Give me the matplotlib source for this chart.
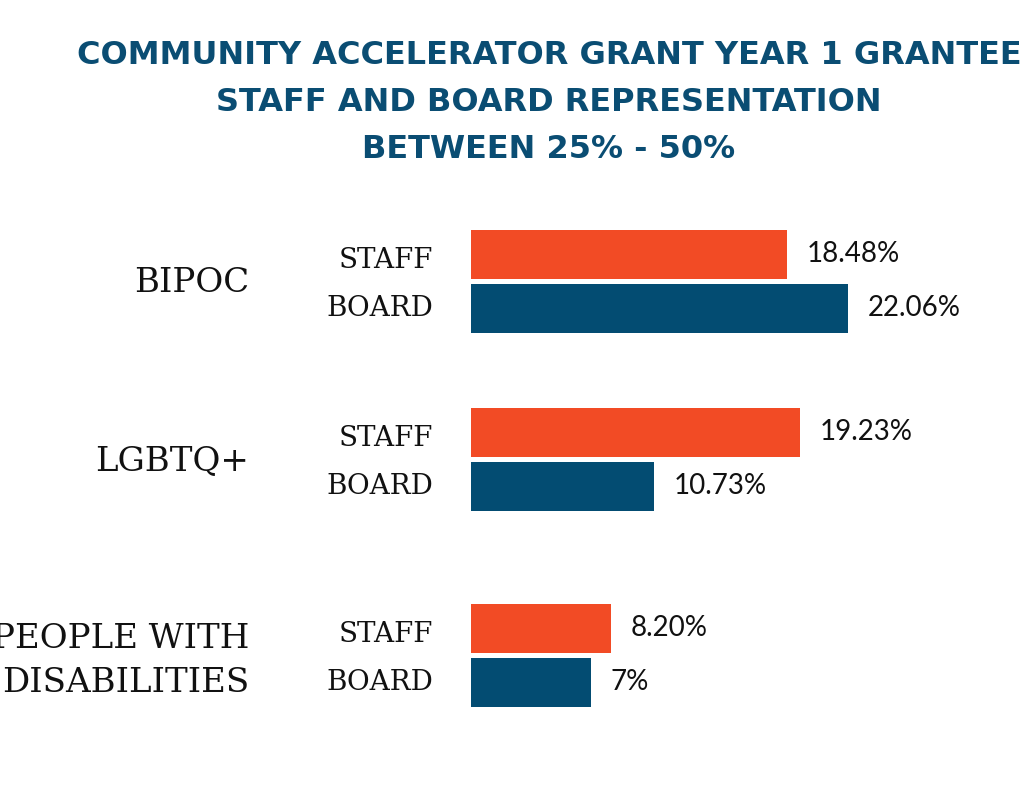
import matplotlib
matplotlib.use("Agg")
import matplotlib.pyplot as plt

# ---- data ----
title_lines = ["COMMUNITY ACCELERATOR GRANT YEAR 1 GRANTEE",
               "STAFF AND BOARD REPRESENTATION",
               "BETWEEN 25% - 50%"]
categories = ["BIPOC", "LGBTQ+", "PEOPLE WITH\nDISABILITIES"]
series_names = ["STAFF", "BOARD"]
staff_values = [18.48, 19.23, 8.20]
board_values = [22.06, 10.73, 7.0]
staff_labels = ["18.48%", "19.23%", "8.20%"]
board_labels = ["22.06%", "10.73%", "7%"]

# ---- style ----
ORANGE = "#f24b25"
BLUE = "#034c72"
TITLE_C = "#0a4d73"
W, H = 1024, 785
PX_PER_UNIT = 17.1
X0 = 471  # bar baseline in pixels

fig = plt.figure(figsize=(W / 100, H / 100), dpi=100)
ax = fig.add_axes([0, 0, 1, 1])
ax.set_xlim(-X0 / PX_PER_UNIT, (W - X0) / PX_PER_UNIT)
ax.set_ylim(H, 0)
ax.axis("off")

group_centers = [281.5, 459.5, 655.0]
bar_h = 49
half = 27

for i, cat in enumerate(categories):
    yc = group_centers[i]
    ys, yb = yc - half, yc + half
    ax.barh(ys, staff_values[i], height=bar_h, left=0, color=ORANGE, edgecolor="none")
    ax.barh(yb, board_values[i], height=bar_h, left=0, color=BLUE, edgecolor="none")
    ax.annotate(staff_labels[i], (staff_values[i], ys), xytext=(14, 0),
                textcoords="offset points", ha="left", va="center",
                fontsize=20, family="Lato", color="#111111")
    ax.annotate(board_labels[i], (board_values[i], yb), xytext=(14, 0),
                textcoords="offset points", ha="left", va="center",
                fontsize=20, family="Lato", color="#111111")
    lx = -(X0 - 433) / PX_PER_UNIT
    ax.text(lx, ys + 6, series_names[0], ha="right", va="center",
            fontsize=20, family="DejaVu Serif", color="#111111")
    ax.text(lx, yb, series_names[1], ha="right", va="center",
            fontsize=20, family="DejaVu Serif", color="#111111")
    cx = -(X0 - 249) / PX_PER_UNIT
    ax.text(cx, yc + 2 + (4 if "\n" in cat else 0), cat, ha="right", va="center",
            fontsize=24.5, family="DejaVu Serif", color="#111111", linespacing=1.5,
            multialignment="right")

for j, line in enumerate(title_lines):
    fig.text(549 / W, 1 - (55 + 47.5 * j) / H, line, ha="center", va="center",
             fontsize=23, fontweight="bold", family="DejaVu Sans", color=TITLE_C)

fig.savefig("out.png", dpi=100, facecolor="white")
